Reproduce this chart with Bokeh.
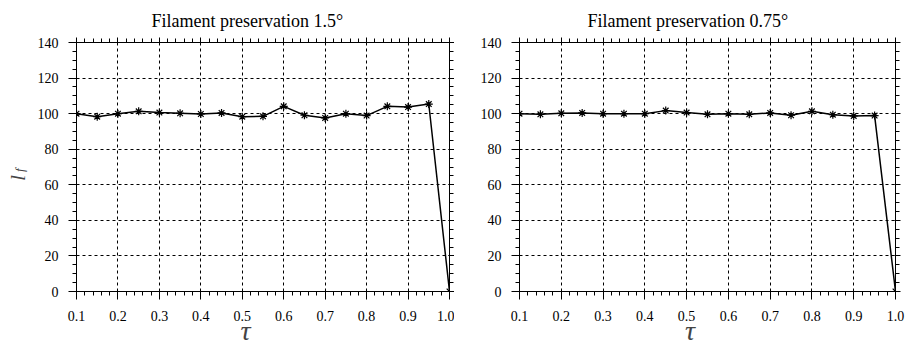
import math
from bokeh.plotting import figure
from bokeh.layouts import row
from bokeh.models import (ColumnDataSource, LinearAxis, FixedTicker, Range1d, Title,
                          PrintfTickFormatter)
from bokeh.embed import file_html
from bokeh.resources import INLINE

tau = [0.1, 0.15, 0.2, 0.25, 0.3, 0.35, 0.4, 0.45, 0.5, 0.55,
       0.6, 0.65, 0.7, 0.75, 0.8, 0.85, 0.9, 0.95, 1.0]
lf_15 = [100.0, 98.3, 100.0, 101.3, 100.6, 100.2, 99.8, 100.4, 98.3, 98.5,
         104.1, 99.1, 97.6, 100.0, 98.9, 104.1, 103.7, 105.4, 0.0]
lf_075 = [100.0, 99.6, 100.2, 100.4, 100.0, 100.0, 100.0, 101.7, 100.6, 99.6,
          100.0, 99.6, 100.4, 99.1, 101.3, 99.4, 98.7, 98.9, 0.0]
titles = ["Filament preservation 1.5°", "Filament preservation 0.75°"]
x_ticks = [0.1, 0.2, 0.3, 0.4, 0.5, 0.6, 0.7, 0.8, 0.9, 1.0]
y_ticks = [0, 20, 40, 60, 80, 100, 120, 140]
x_minor = [round(0.1 + 0.02 * i, 2) for i in range(46)]
y_minor = list(range(0, 145, 5))

FONT = "Liberation Serif"
NB = "\u00a0"


def style_axis(ax, labels=True, tick_out=8):
    ax.axis_line_color = "black"
    ax.axis_line_width = 1
    ax.major_tick_line_color = "black"
    ax.minor_tick_line_color = "black"
    ax.major_tick_out = tick_out
    ax.major_tick_in = 1
    ax.minor_tick_out = 4
    ax.minor_tick_in = 0
    if labels:
        ax.major_label_text_font = FONT
        ax.major_label_text_font_size = "14px"
        ax.major_label_text_color = "black"
    else:
        ax.major_label_text_color = None
        ax.major_label_text_font_size = "1px"
        ax.major_label_standoff = 0


def make(ys, title, left_border, right_border, title_offset, ylabel):
    p = figure(width=454, height=348, output_backend="svg", toolbar_location=None,
               x_range=Range1d(0.1, 1.0), y_range=Range1d(0, 140),
               min_border_left=left_border, min_border_right=right_border,
               min_border_top=42, min_border_bottom=56)
    p.outline_line_color = "black"
    p.background_fill_color = "white"
    p.border_fill_color = "white"

    p.xaxis.ticker = FixedTicker(ticks=x_ticks, minor_ticks=x_minor)
    p.yaxis.ticker = FixedTicker(ticks=y_ticks, minor_ticks=y_minor)
    for ax in p.xaxis:
        style_axis(ax)
        ax.major_label_standoff = 11
        ax.formatter = PrintfTickFormatter(format="%.1f")
        ax.axis_label = "τ" + NB * 5
        ax.axis_label_text_font = FONT
        ax.axis_label_text_font_style = "italic"
        ax.axis_label_text_font_size = "28px"
        ax.axis_label_standoff = -9
    for ax in p.yaxis:
        style_axis(ax)
        ax.major_label_standoff = 10
        if ylabel:
            ax.axis_label = "f" + NB * 2
            ax.axis_label_text_font = FONT
            ax.axis_label_text_font_style = "italic"
            ax.axis_label_text_font_size = "13px"
            ax.axis_label_standoff = 8
    top = LinearAxis(ticker=FixedTicker(ticks=x_ticks, minor_ticks=x_minor))
    style_axis(top, labels=False, tick_out=5)
    p.add_layout(top, "above")
    right = LinearAxis(ticker=FixedTicker(ticks=y_ticks, minor_ticks=y_minor))
    style_axis(right, labels=False, tick_out=5)
    p.add_layout(right, "right")
    if ylabel:
        outer = LinearAxis(ticker=FixedTicker(ticks=[]))
        outer.axis_line_color = None
        outer.major_tick_line_color = None
        outer.minor_tick_line_color = None
        outer.major_tick_out = 0
        outer.major_tick_in = 0
        outer.minor_tick_out = 0
        outer.minor_tick_in = 0
        outer.major_label_text_color = None
        outer.major_label_text_font_size = "1px"
        outer.major_label_standoff = 0
        outer.axis_label = "l" + NB * 4
        outer.axis_label_text_font = FONT
        outer.axis_label_text_font_style = "italic"
        outer.axis_label_text_font_size = "22px"
        outer.axis_label_standoff = -21
        p.add_layout(outer, "left")

    p.add_layout(Title(text=title, align="left", offset=title_offset,
                       text_font=FONT, text_font_size="18px",
                       text_font_style="normal", text_color="black",
                       standoff=13), "above")

    for g in (p.xgrid, p.ygrid):
        g.grid_line_color = "black"
        g.grid_line_dash = "3 3"
        g.grid_line_width = 1
        g.grid_line_alpha = 1.0

    src = ColumnDataSource(dict(x=tau, y=ys))
    p.line("x", "y", source=src, line_color="black", line_width=1.5)
    p.scatter("x", "y", source=src, marker="asterisk", size=8,
              line_color="black", line_width=1.2)
    return p


p1 = make(lf_15, titles[0], 76, 5, 75, True)
p2 = make(lf_075, titles[1], 65, 13, 68, False)
layout = row(p1, p2)

open("out.html", "w").write(file_html(layout, INLINE))
